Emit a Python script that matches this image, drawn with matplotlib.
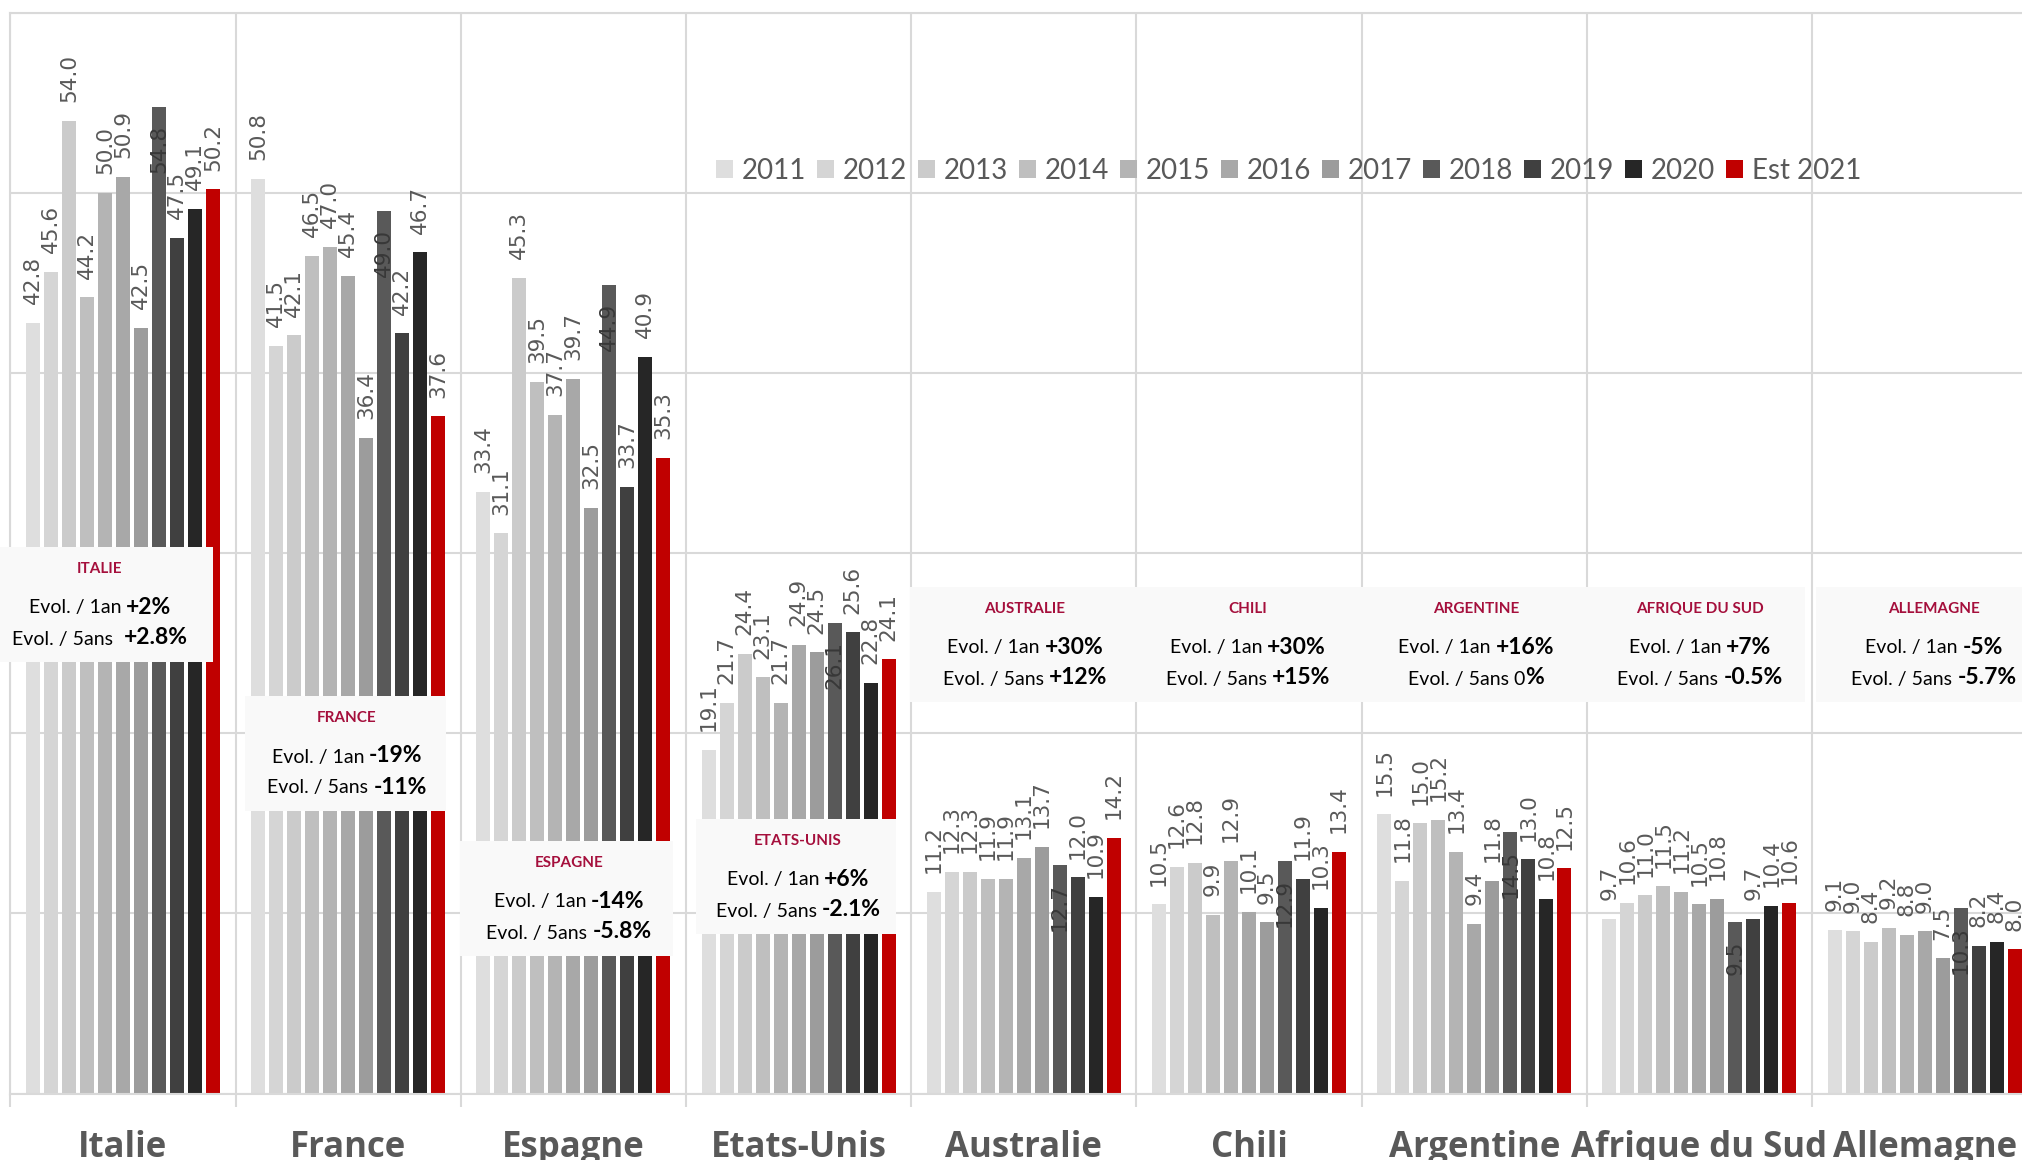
import numpy as np
import matplotlib
matplotlib.use('Agg')
import matplotlib.pyplot as plt
import matplotlib.transforms as mtransforms
from matplotlib.patches import Rectangle
from matplotlib.offsetbox import TextArea, HPacker, AnnotationBbox

W, H = 2022, 1160

# Données
pays = ['Italie', 'France', 'Espagne', 'Etats-Unis', 'Australie', 'Chili',
        'Argentine', 'Afrique du Sud', 'Allemagne']
annees = ['2011', '2012', '2013', '2014', '2015', '2016', '2017', '2018',
          '2019', '2020', 'Est 2021']
couleurs = ['#DEDEDE', '#D5D5D5', '#CBCBCB', '#BFBFBF', '#B4B4B4', '#A8A8A8',
            '#9C9C9C', '#595959', '#404040', '#262626', '#C00000']

italie = [42.8, 45.6, 54.0, 44.2, 50.0, 50.9, 42.5, 54.8, 47.5, 49.1, 50.2]
france = [50.8, 41.5, 42.1, 46.5, 47.0, 45.4, 36.4, 49.0, 42.2, 46.7, 37.6]
espagne = [33.4, 31.1, 45.3, 39.5, 37.7, 39.7, 32.5, 44.9, 33.7, 40.9, 35.3]
etats_unis = [19.1, 21.7, 24.4, 23.1, 21.7, 24.9, 24.5, 26.1, 25.6, 22.8, 24.1]
australie = [11.2, 12.3, 12.3, 11.9, 11.9, 13.1, 13.7, 12.7, 12.0, 10.9, 14.2]
chili = [10.5, 12.6, 12.8, 9.9, 12.9, 10.1, 9.5, 12.9, 11.9, 10.3, 13.4]
argentine = [15.5, 11.8, 15.0, 15.2, 13.4, 9.4, 11.8, 14.5, 13.0, 10.8, 12.5]
afrique_sud = [9.7, 10.6, 11.0, 11.5, 11.2, 10.5, 10.8, 9.5, 9.7, 10.4, 10.6]
allemagne = [9.1, 9.0, 8.4, 9.2, 8.8, 9.0, 7.5, 10.3, 8.2, 8.4, 8.0]

titres = ['ITALIE', 'FRANCE', 'ESPAGNE', 'ETATS-UNIS', 'AUSTRALIE', 'CHILI',
          'ARGENTINE', 'AFRIQUE DU SUD', 'ALLEMAGNE']
evol_1an = ['+2%', '-19%', '-14%', '+6%', '+30%', '+30%', '+16%', '+7%', '-5%']
evol_5ans = ['+2.8%', '-11%', '-5.8%', '-2.1%', '+12%', '+15%', '0%', '-0.5%', '-5.7%']

# position des encadrés (pixels de la figure)
boite_x0 = [0, 245, 460, 696, 910, 1136, 1361, 1586, 1816]
boite_x1 = [213, 446, 673, 896, 1136, 1361, 1586, 1805, 2022]
boite_y0 = [547, 696, 841, 819, 587, 587, 587, 587, 587]
texte_cx = [100, 347, 569, 798, 1025, 1248, 1476, 1700, 1934]

valeurs = np.array([italie, france, espagne, etats_unis, australie, chili,
                    argentine, afrique_sud, allemagne])

gris_texte = '#595959'
gris_grille = '#D9D9D9'

fig = plt.figure(figsize=(W / 100, H / 100), dpi=100)
ax = fig.add_axes([10.3 / W, 66.5 / H, 2027 / W, 1080.6 / H])

x = np.arange(len(pays))
pas = 18 / 225.2
largeur = 14 / 225.2

barres = []
for j, annee in enumerate(annees):
    xs = x + (j - 5) * pas
    b = ax.bar(xs, valeurs[:, j], width=largeur, color=couleurs[j], zorder=2, label=annee)
    barres.append(b)
    for xi, v in zip(xs, valeurs[:, j]):
        if annee == '2018':
            # étiquettes à l'intérieur de la barre
            ax.annotate(f'{v:.1f}', (xi, v), xytext=(0, -13), textcoords='offset points',
                        rotation=90, ha='center', va='top', fontsize=15.5,
                        color='#383838', zorder=4)
        else:
            ax.annotate(f'{v:.1f}', (xi, v), xytext=(0, 13.5), textcoords='offset points',
                        rotation=90, ha='center', va='bottom', fontsize=15.5,
                        color=gris_texte, zorder=4)

ax.set_xlim(-0.5, 8.5)
ax.set_ylim(0, 60)
ax.set_yticks(np.arange(0, 61, 10))
ax.set_xticks(np.arange(-0.5, 9, 1))
ax.grid(True, color=gris_grille, lw=1.5, zorder=0)
ax.set_axisbelow(True)
ax.tick_params(axis='y', length=0, labelleft=False)
ax.tick_params(axis='x', length=9.5, width=1.5, color=gris_grille, labelbottom=False)
for s in ['top', 'bottom', 'left']:
    ax.spines[s].set_color(gris_grille)
    ax.spines[s].set_linewidth(1.5)
ax.spines['right'].set_visible(False)

# noms des pays
trans = mtransforms.blended_transform_factory(ax.transData, fig.transFigure)
for i, nom in enumerate(pays):
    ax.text(i, 3 / H, nom, transform=trans, ha='center', va='baseline',
            fontsize=25, fontweight='bold', family='Open Sans', color=gris_texte,
            clip_on=False)

# légende
ax.legend(barres, annees, ncol=11, loc='center left',
          bbox_to_anchor=(716 / W, 1 - 171 / H), bbox_transform=fig.transFigure,
          frameon=False, borderpad=0, borderaxespad=0, handlelength=0.62,
          handleheight=0.62, handletextpad=0.3, columnspacing=0.4,
          prop={'family': 'Lato', 'size': 20}, labelcolor=gris_texte)

# encadrés d'évolution
rouge_titre = '#A50F3C'
reg = {'family': 'Lato', 'size': 14, 'color': 'black'}
gras = {'family': 'Lato', 'size': 16.5, 'weight': 'bold', 'color': 'black'}


def ligne(texte, valeur, cx, y):
    pack = HPacker(children=[TextArea(texte, textprops=reg), TextArea(valeur, textprops=gras)],
                   align='baseline', pad=0, sep=0)
    ab = AnnotationBbox(pack, (cx / W, 1 - y / H), xycoords='figure fraction',
                        frameon=False, box_alignment=(0.5, 0.5), zorder=6)
    fig.add_artist(ab)


for i in range(len(pays)):
    x0, x1, y0 = boite_x0[i], boite_x1[i], boite_y0[i]
    fig.add_artist(Rectangle((x0 / W, 1 - (y0 + 115) / H), (x1 - x0) / W, 115 / H,
                             transform=fig.transFigure, facecolor='#F9F9F9',
                             edgecolor='none', zorder=5))
    cx = texte_cx[i]
    fig.text(cx / W, 1 - (y0 + 22) / H, titres[i], ha='center', va='center',
             family='Lato', fontsize=11, fontweight='bold', color=rouge_titre, zorder=6)
    ligne('Evol. / 1an ', evol_1an[i], cx, y0 + 60)
    v5 = evol_5ans[i]
    if v5 == '0%':
        ligne('Evol. / 5ans 0', '%', cx, y0 + 91)
    elif i == 0:
        ligne('Evol. / 5ans  ', v5, cx, y0 + 91)
    else:
        ligne('Evol. / 5ans ', v5, cx, y0 + 91)

fig.savefig('out.png', dpi=100)
